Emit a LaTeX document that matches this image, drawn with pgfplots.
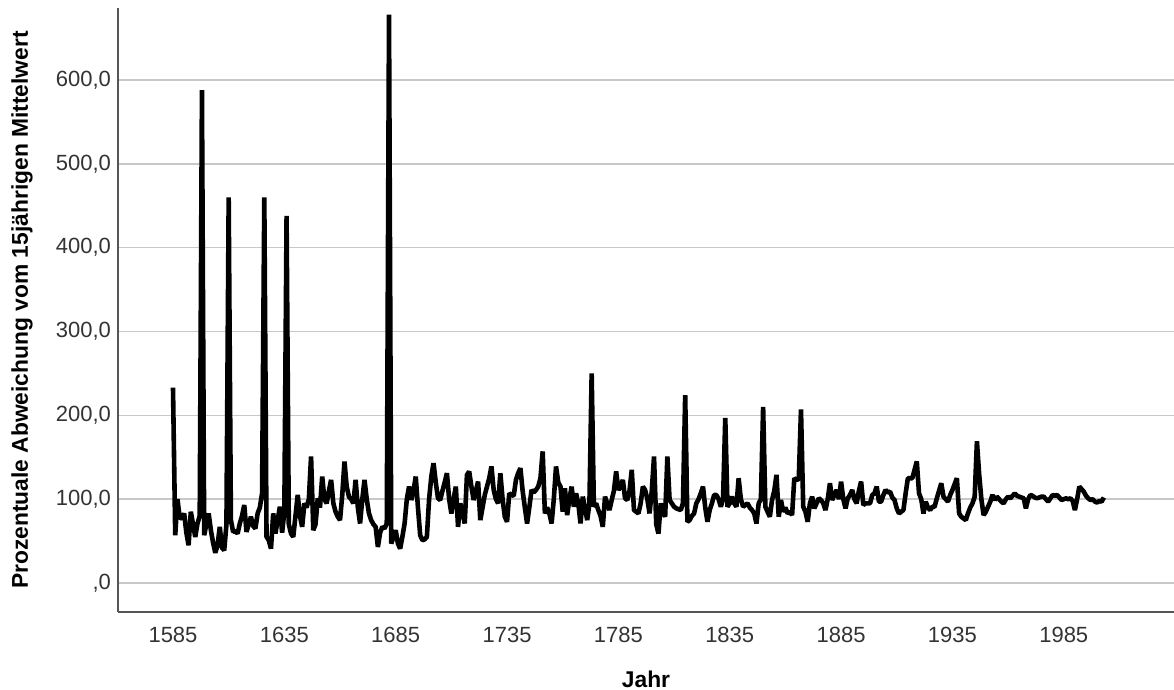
\documentclass[border=0pt]{standalone}
\usepackage{pgfplots}
\usepackage{pgfplotstable}
\usepackage{fontspec}
\setmainfont{Liberation Sans}
\pgfplotsset{compat=1.18}
\definecolor{gridgray}{HTML}{C8C8C8}
\definecolor{axgray}{HTML}{555555}
\definecolor{lblgray}{HTML}{333333}

% Jahr / prozentuale Abweichung vom 15jaehrigen Mittelwert
\pgfplotstableread[row sep=\\]{
jahr wert\\
1585 233\\ 1586 57\\ 1587 100\\ 1588 78\\ 1589 77\\ 1590 83\\ 1591 60\\ 1592 45\\
1593 85\\ 1594 70\\ 1595 55\\ 1596 71\\ 1597 80\\ 1598 588\\ 1599 57\\ 1600 70\\
1601 83\\ 1602 63\\ 1603 48\\ 1604 36\\ 1605 45\\ 1606 67\\ 1607 42\\ 1608 39\\
1609 70\\ 1610 460\\ 1611 75\\ 1612 61\\ 1613 62\\ 1614 59\\ 1615 71\\ 1616 80\\
1617 93\\ 1618 61\\ 1619 70\\ 1620 79\\ 1621 68\\ 1622 65\\ 1623 83\\ 1624 90\\
1625 107\\ 1626 460\\ 1627 55\\ 1628 51\\ 1629 41\\ 1630 83\\ 1631 59\\ 1632 75\\
1633 91\\ 1634 60\\ 1635 85\\ 1636 438\\ 1637 70\\ 1638 59\\ 1639 55\\ 1640 80\\
1641 105\\ 1642 80\\ 1643 67\\ 1644 95\\ 1645 90\\ 1646 100\\ 1647 151\\ 1648 63\\
1649 70\\ 1650 101\\ 1651 90\\ 1652 127\\ 1653 100\\ 1654 95\\ 1655 110\\ 1656 123\\
1657 95\\ 1658 85\\ 1659 79\\ 1660 75\\ 1661 105\\ 1662 145\\ 1663 115\\ 1664 103\\
1665 100\\ 1666 95\\ 1667 123\\ 1668 90\\ 1669 71\\ 1670 100\\ 1671 123\\ 1672 100\\
1673 83\\ 1674 75\\ 1675 70\\ 1676 67\\ 1677 43\\ 1678 60\\ 1679 67\\ 1680 65\\
1681 71\\ 1682 678\\ 1683 47\\ 1684 55\\ 1685 63\\ 1686 47\\ 1687 41\\ 1688 55\\
1689 71\\ 1690 100\\ 1691 115\\ 1692 99\\ 1693 110\\ 1694 127\\ 1695 90\\ 1696 57\\
1697 51\\ 1698 52\\ 1699 55\\ 1700 100\\ 1701 127\\ 1702 143\\ 1703 120\\ 1704 101\\
1705 99\\ 1706 110\\ 1707 120\\ 1708 131\\ 1709 100\\ 1710 83\\ 1711 100\\ 1712 115\\
1713 67\\ 1714 95\\ 1715 85\\ 1716 71\\ 1717 129\\ 1718 133\\ 1719 115\\ 1720 99\\
1721 110\\ 1722 121\\ 1723 75\\ 1724 90\\ 1725 105\\ 1726 115\\ 1727 125\\ 1728 139\\
1729 111\\ 1730 100\\ 1731 95\\ 1732 131\\ 1733 100\\ 1734 79\\ 1735 73\\ 1736 107\\
1737 105\\ 1738 104\\ 1739 123\\ 1740 131\\ 1741 137\\ 1742 110\\ 1743 90\\ 1744 71\\
1745 90\\ 1746 111\\ 1747 108\\ 1748 111\\ 1749 115\\ 1750 125\\ 1751 157\\ 1752 83\\
1753 90\\ 1754 83\\ 1755 71\\ 1756 100\\ 1757 139\\ 1758 120\\ 1759 115\\ 1760 85\\
1761 113\\ 1762 81\\ 1763 100\\ 1764 115\\ 1765 91\\ 1766 107\\ 1767 95\\ 1768 71\\
1769 103\\ 1770 90\\ 1771 75\\ 1772 95\\ 1773 250\\ 1774 91\\ 1775 95\\ 1776 87\\
1777 80\\ 1778 67\\ 1779 103\\ 1780 95\\ 1781 87\\ 1782 99\\ 1783 110\\ 1784 133\\
1785 111\\ 1786 115\\ 1787 123\\ 1788 101\\ 1789 99\\ 1790 110\\ 1791 135\\ 1792 87\\
1793 85\\ 1794 83\\ 1795 95\\ 1796 115\\ 1797 111\\ 1798 100\\ 1799 83\\ 1800 110\\
1801 151\\ 1802 70\\ 1803 59\\ 1804 95\\ 1805 85\\ 1806 79\\ 1807 151\\ 1808 99\\
1809 95\\ 1810 91\\ 1811 89\\ 1812 88\\ 1813 87\\ 1814 95\\ 1815 224\\ 1816 73\\
1817 75\\ 1818 80\\ 1819 83\\ 1820 95\\ 1821 100\\ 1822 107\\ 1823 115\\ 1824 90\\
1825 73\\ 1826 87\\ 1827 95\\ 1828 105\\ 1829 105\\ 1830 100\\ 1831 91\\ 1832 100\\
1833 197\\ 1834 91\\ 1835 95\\ 1836 103\\ 1837 95\\ 1838 91\\ 1839 125\\ 1840 100\\
1841 91\\ 1842 93\\ 1843 95\\ 1844 90\\ 1845 87\\ 1846 83\\ 1847 71\\ 1848 95\\
1849 100\\ 1850 210\\ 1851 91\\ 1852 85\\ 1853 79\\ 1854 99\\ 1855 110\\ 1856 129\\
1857 79\\ 1858 99\\ 1859 85\\ 1860 90\\ 1861 83\\ 1862 85\\ 1863 81\\ 1864 125\\
1865 123\\ 1866 124\\ 1867 207\\ 1868 91\\ 1869 85\\ 1870 73\\ 1871 95\\ 1872 103\\
1873 89\\ 1874 95\\ 1875 101\\ 1876 99\\ 1877 95\\ 1878 87\\ 1879 100\\ 1880 119\\
1881 99\\ 1882 105\\ 1883 111\\ 1884 100\\ 1885 121\\ 1886 100\\ 1887 89\\ 1888 101\\
1889 105\\ 1890 111\\ 1891 100\\ 1892 95\\ 1893 110\\ 1894 121\\ 1895 93\\ 1896 95\\
1897 95\\ 1898 95\\ 1899 105\\ 1900 107\\ 1901 115\\ 1902 97\\ 1903 97\\ 1904 105\\
1905 111\\ 1906 108\\ 1907 109\\ 1908 102\\ 1909 99\\ 1910 89\\ 1911 83\\ 1912 85\\
1913 87\\ 1914 107\\ 1915 125\\ 1916 125\\ 1917 125\\ 1918 135\\ 1919 145\\ 1920 107\\
1921 100\\ 1922 83\\ 1923 97\\ 1924 90\\ 1925 87\\ 1926 91\\ 1927 91\\ 1928 101\\
1929 110\\ 1930 119\\ 1931 103\\ 1932 100\\ 1933 97\\ 1934 105\\ 1935 111\\ 1936 118\\
1937 125\\ 1938 83\\ 1939 79\\ 1940 77\\ 1941 75\\ 1942 83\\ 1943 90\\ 1944 95\\
1945 103\\ 1946 169\\ 1947 130\\ 1948 100\\ 1949 81\\ 1950 85\\ 1951 91\\ 1952 97\\
1953 105\\ 1954 99\\ 1955 103\\ 1956 100\\ 1957 97\\ 1958 95\\ 1959 100\\ 1960 103\\
1961 101\\ 1962 104\\ 1963 107\\ 1964 104\\ 1965 103\\ 1966 102\\ 1967 101\\ 1968 89\\
1969 100\\ 1970 105\\ 1971 104\\ 1972 102\\ 1973 101\\ 1974 102\\ 1975 103\\ 1976 103\\
1977 100\\ 1978 97\\ 1979 101\\ 1980 105\\ 1981 104\\ 1982 105\\ 1983 102\\ 1984 99\\
1985 100\\ 1986 101\\ 1987 100\\ 1988 101\\ 1989 98\\ 1990 87\\ 1991 100\\ 1992 115\\
1993 112\\ 1994 109\\ 1995 104\\ 1996 101\\ 1997 99\\ 1998 100\\ 1999 97\\ 2000 96\\
2001 98\\ 2002 97\\ 2003 102\\
}\abweichung

\begin{document}
\begin{tikzpicture}
% page = 587pt x 345pt (2 px per pt)
\path[use as bounding box] (-59pt,-39pt) rectangle (528pt,306pt);
\begin{axis}[
  at={(0,0)}, anchor=south west,
  scale only axis,
  width=528pt, height=302pt,
  xmin=1560.3, xmax=2034.5,
  ymin=-34.6, ymax=686,
  axis lines=left,
  axis line style={-, draw=axgray, line width=0.75pt},
  xtick={1585,1635,1685,1735,1785,1835,1885,1935,1985},
  xticklabels={1585,1635,1685,1735,1785,1835,1885,1935,1985},
  ytick={0,100,200,300,400,500,600},
  yticklabels={{,0},{100,0},{200,0},{300,0},{400,0},{500,0},{600,0}},
  major tick length=0pt,
  tick label style={font=\fontsize{11}{13}\selectfont, text=lblgray},
  xticklabel style={yshift=-4pt},
  ymajorgrids,
  grid style={draw=gridgray, line width=0.75pt},
  xlabel={Jahr},
  ylabel={Prozentuale Abweichung vom 15jährigen Mittelwert},
  label style={font=\fontsize{11.4}{13}\selectfont\bfseries, text=black},
  xlabel style={at={(axis description cs:0.5,-0.1109)}, anchor=center},
  ylabel style={at={(axis description cs:-0.0909,0.5)}, anchor=center},
]
\addplot[black, line width=2.3pt, line join=bevel, no markers] table[x=jahr, y=wert] {\abweichung};
\end{axis}
\end{tikzpicture}
\end{document}
